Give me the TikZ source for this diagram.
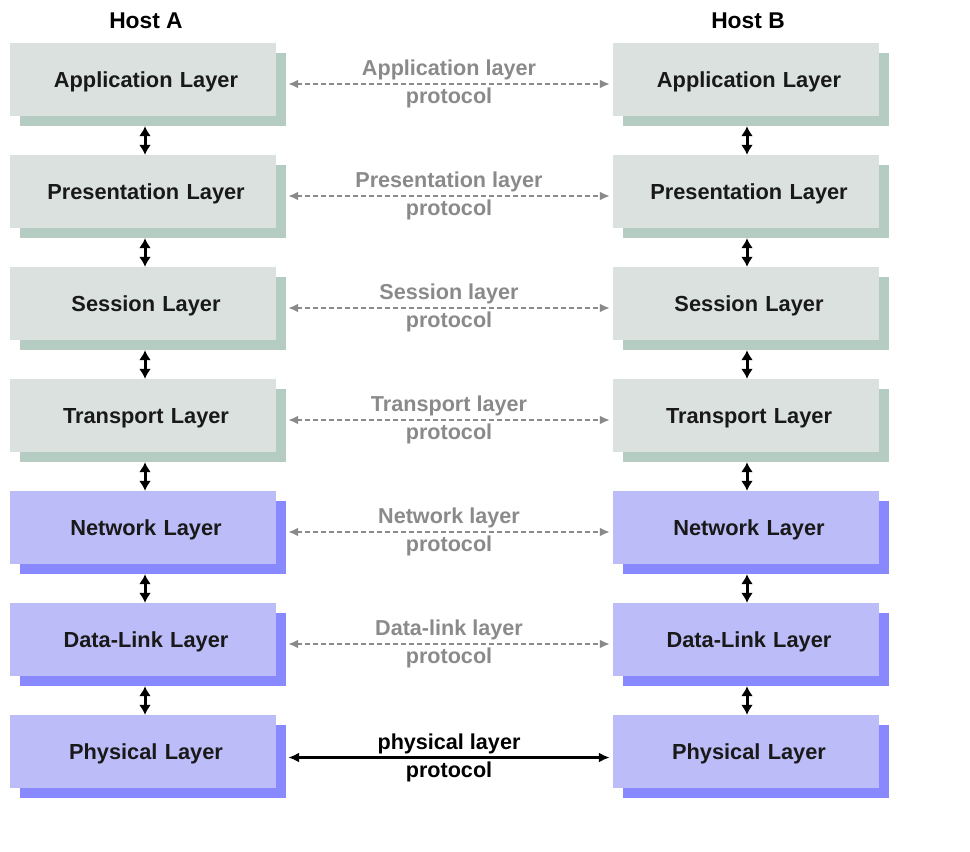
\documentclass[tikz,border=0pt]{standalone}
\usepackage{fontspec}
\setmainfont{Liberation Sans}
\usetikzlibrary{shadows,arrows.meta}
\definecolor{gfill}{RGB}{218,225,223}
\definecolor{gshadow}{RGB}{180,204,194}
\definecolor{bfill}{RGB}{188,188,248}
\definecolor{bshadow}{RGB}{136,136,255}
\definecolor{protogray}{RGB}{138,138,138}
\tikzset{
  layerbox/.style={minimum width=266pt, minimum height=73pt, inner sep=0pt, text width=266pt, align=center, text depth=0pt, execute at begin node={\hspace*{6pt}}, font=\fontsize{21.8}{24}\selectfont\bfseries, text=black!90},
  upperbox/.style={layerbox, fill=gfill, drop shadow={shadow xshift=10pt, shadow yshift=-10pt, fill=gshadow, opacity=1}},
  lowerbox/.style={layerbox, fill=bfill, drop shadow={shadow xshift=10pt, shadow yshift=-10pt, fill=bshadow, opacity=1}},
  hostlabel/.style={font=\fontsize{22.8}{24}\selectfont\bfseries, text depth=0pt},
  varrow/.style={{Latex[length=10pt,width=12pt]}-{Latex[length=10pt,width=12pt]}, line width=3pt, black},
  dasharrow/.style={{Latex[length=10pt,width=9pt]}-{Latex[length=10pt,width=9pt]}, dash pattern=on 5pt off 3pt, line width=2pt, protogray},
  solidarrow/.style={{Latex[length=11pt,width=10pt]}-{Latex[length=11pt,width=10pt]}, line width=2.6pt, black},
  protolabel/.style={align=center, font=\fontsize{21.6}{28}\selectfont\bfseries, text=protogray},
  physlabel/.style={align=center, font=\fontsize{21.6}{28}\selectfont\bfseries, text=black}
}
\begin{document}
\begin{tikzpicture}[x=1pt,y=-1pt]
\useasboundingbox (0,0) rectangle (970,852);
\node[hostlabel] (ha) at (146,20.5) {Host A};
\node[hostlabel] (hb) at (748,20.5) {Host B};
% left column
\node[upperbox] (a1) at (143,79.5) {Application Layer};
\node[upperbox] (a2) at (143,191.5) {Presentation Layer};
\node[upperbox] (a3) at (143,303.5) {Session Layer};
\node[upperbox] (a4) at (143,415.5) {Transport Layer};
\node[lowerbox] (a5) at (143,527.5) {Network Layer};
\node[lowerbox] (a6) at (143,639.5) {Data-Link Layer};
\node[lowerbox] (a7) at (143,751.5) {Physical Layer};
% right column
\node[upperbox] (b1) at (746,79.5) {Application Layer};
\node[upperbox] (b2) at (746,191.5) {Presentation Layer};
\node[upperbox] (b3) at (746,303.5) {Session Layer};
\node[upperbox] (b4) at (746,415.5) {Transport Layer};
\node[lowerbox] (b5) at (746,527.5) {Network Layer};
\node[lowerbox] (b6) at (746,639.5) {Data-Link Layer};
\node[lowerbox] (b7) at (746,751.5) {Physical Layer};
% vertical arrows
\foreach \i/\j in {1/2,2/3,3/4,4/5,5/6,6/7}{
  \draw[varrow] ([xshift=2pt,yshift=-10pt]a\i.south) -- ([xshift=2pt]a\j.north);
  \draw[varrow] ([xshift=1pt,yshift=-10pt]b\i.south) -- ([xshift=1pt]b\j.north);
}
% protocol arrows
\foreach \i/\t in {1/Application layer,2/Presentation layer,3/Session layer,4/Transport layer,5/Network layer,6/Data-link layer}{
  \draw[dasharrow] ([xshift=12pt,yshift=-4.5pt]a\i.east) -- ([xshift=-3pt,yshift=-4.5pt]b\i.west)
    node[midway, protolabel] (p\i) {\t\\protocol};
}
\draw[solidarrow] ([xshift=12pt,yshift=-6pt]a7.east) -- ([xshift=-3pt,yshift=-6pt]b7.west)
  node[midway, physlabel] (p7) {physical layer\\protocol};
\end{tikzpicture}
\end{document}
